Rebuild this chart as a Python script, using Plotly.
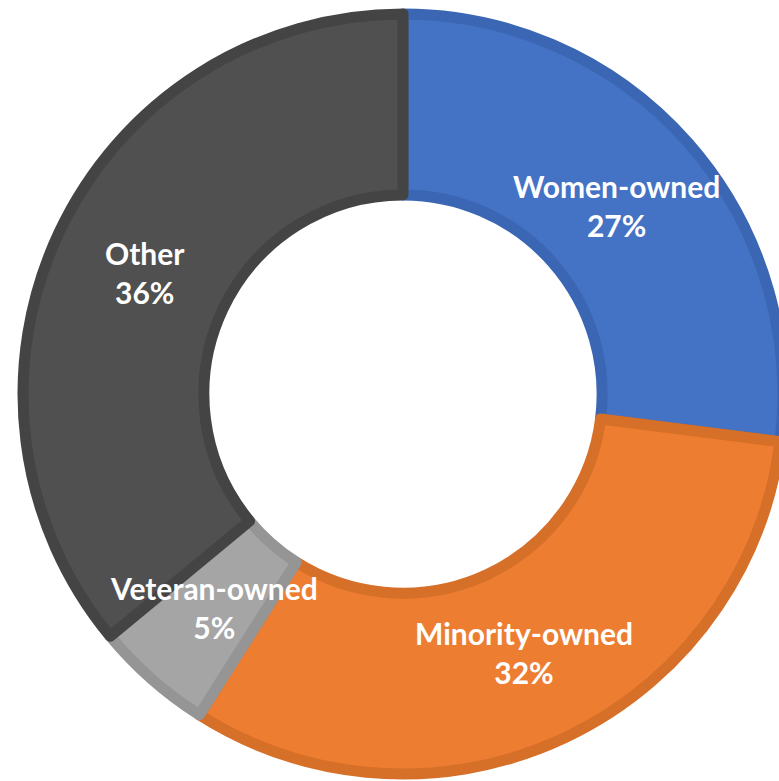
import math
import plotly.graph_objects as go

categories = ["Women-owned", "Minority-owned", "Veteran-owned", "Other"]
shares = [27, 32, 5, 36]
fill_colors = ["#4472C4", "#ED7D31", "#A5A5A5", "#505050"]
border_colors = ["#3B66B3", "#D66F28", "#959595", "#444444"]

HOLE = 0.524

fig = go.Figure(
    go.Pie(
        labels=categories,
        values=shares,
        sort=False,
        direction="clockwise",
        rotation=0,
        hole=HOLE,
        marker=dict(colors=fill_colors, line=dict(color=border_colors, width=11)),
        textinfo="none",
        hoverinfo="label+percent",
        showlegend=False,
    )
)

# Data labels: placed at each slice's mid-angle, mid-ring (derived from the data)
total = sum(shares)
cum = 0
rmid = (1 + HOLE) / 4 * 0.985  # in domain fractions (radius = 0.5 of square domain)
for cat, v in zip(categories, shares):
    mid = (cum + v / 2) / total * 2 * math.pi
    cum += v
    fig.add_annotation(
        x=0.5 + math.sin(mid) * rmid,
        y=0.5 + math.cos(mid) * rmid,
        xref="paper", yref="paper",
        text=f"{cat}<br>{round(v / total * 100)}%",
        showarrow=False,
        font=dict(family="Lato", size=30, color="white", weight="bold"),
        xanchor="center", yanchor="middle",
    )

fig.update_layout(
    width=785,
    height=781,
    margin=dict(l=23, r=2, t=14, b=7),
    paper_bgcolor="white",
)
fig.write_html(
    "out.html",
    config={"displayModeBar": False},
    post_script="document.body.style.margin='0';document.body.style.overflow='hidden';",
)
